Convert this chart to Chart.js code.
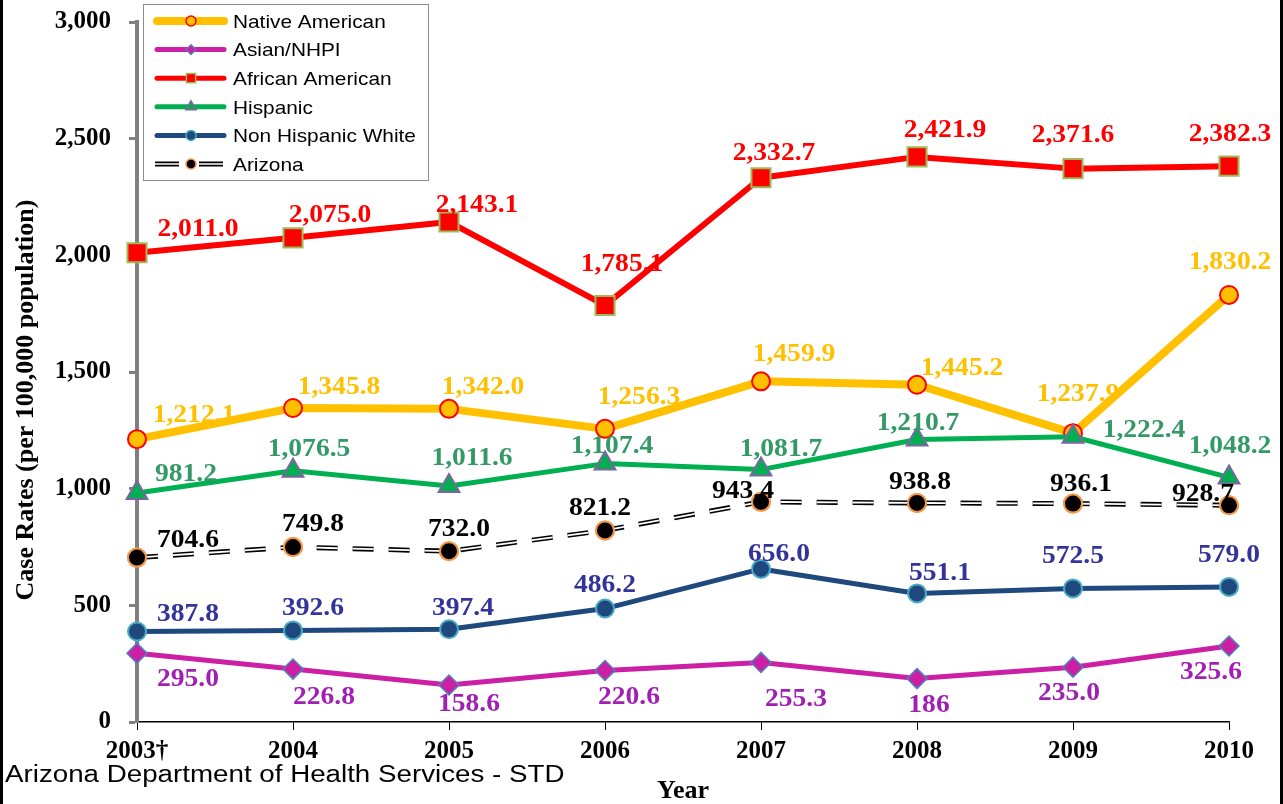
<!DOCTYPE html>
<html>
<head>
<meta charset="utf-8">
<script src="https://cdn.jsdelivr.net/npm/chart.js@4.4.1/dist/chart.umd.min.js"></script>
<style>
html,body{margin:0;padding:0;background:#fff;}
#wrap{position:relative;width:1283px;height:804px;}
</style>
</head>
<body>
<div id="wrap"><canvas id="c" width="1283" height="804"></canvas></div>
<script>
// ---------------- DATA ----------------
const years = ['2003\u2020', '2004', '2005', '2006', '2007', '2008', '2009', '2010'];
const nativeAmerican   = [1212.1, 1345.8, 1342.0, 1256.3, 1459.9, 1445.2, 1237.9, 1830.2];
const asianNHPI        = [295.0, 226.8, 158.6, 220.6, 255.3, 186, 235.0, 325.6];
const africanAmerican  = [2011.0, 2075.0, 2143.1, 1785.1, 2332.7, 2421.9, 2371.6, 2382.3];
const hispanic         = [981.2, 1076.5, 1011.6, 1107.4, 1081.7, 1210.7, 1222.4, 1048.2];
const nonHispanicWhite = [387.8, 392.6, 397.4, 486.2, 656.0, 551.1, 572.5, 579.0];
const arizona          = [704.6, 749.8, 732.0, 821.2, 943.4, 938.8, 936.1, 928.7];
const seriesNames = ['Native American', 'Asian/NHPI', 'African American', 'Hispanic', 'Non Hispanic White', 'Arizona'];
const yTickValues = [0, 500, 1000, 1500, 2000, 2500, 3000];
const yTitle = 'Case Rates (per 100,000 population)';
const xTitle = 'Year';
const footerText = 'Arizona Department of Health Services - STD';
// label shown as a whole number in the source (series index -> point indices)
const wholeNumberLabels = { 1: [5] };

// ---------------- STYLES ----------------
const seriesValues = [nativeAmerican, asianNHPI, africanAmerican, hispanic, nonHispanicWhite, arizona];
const styles = [
  { line: '#FFC000', width: 8, fill: '#FFC000', border: '#FF0000', bw: 2,   shape: 'circle',   r: 9,    label: '#FFC000', legR: 5,   legBw: 1.5, legW: 8 },
  { line: '#CC1FA4', width: 5, fill: '#CC1FA4', border: '#4F81BD', bw: 1.5, shape: 'rectRot',  r: 10,   label: '#A020B4', legR: 5,   legBw: 1.2, legW: 5 },
  { line: '#FF0000', width: 6, fill: '#FF0000', border: '#9BBB59', bw: 2,   shape: 'rect',     r: 13.5, label: '#FF0000', legR: 6.5, legBw: 1.5, legW: 5 },
  { line: '#00B050', width: 5, fill: '#00B050', border: '#8064A2', bw: 2,   shape: 'triangle', r: 12,   label: '#339966', legR: 6,   legBw: 1.5, legW: 5 },
  { line: '#1F497D', width: 5, fill: '#1F497D', border: '#4BACC6', bw: 2,   shape: 'circle',   r: 9,    label: '#333399', legR: 5,   legBw: 1.5, legW: 5 },
  { line: '#000000', width: 5, fill: '#000000', border: '#F79646', bw: 2,   shape: 'circle',   r: 9,    label: '#000000', legR: 5,   legBw: 1.5, legW: 5, dash: [21, 15] }
];
// label placement relative to each point (pixels)
const labelOffsets = [
  [[57,-26],[46,-22],[34,-23],[34,-33],[33,-29],[45,-18],[5,-41],[1,-34]],
  [[51,24],[31,26],[20,18],[24,25],[35,35],[12,25],[-4,24],[-18,24]],
  [[61,-25],[37,-24],[28,-18],[17,-43],[13,-26],[28,-28],[0,-35],[1,-34]],
  [[49,-21],[16,-23],[23,-29],[7,-19],[20,-22],[1,-18],[71,-8],[1,-33]],
  [[51,-19],[20,-24],[14,-23],[0,-25],[18,-16],[23,-22],[0,-34],[0,-33]],
  [[51,-19],[20,-25],[10,-24],[-5,-24],[-18,-12],[3,-22],[8,-21],[-26,-13]]
];
const SERIF = '"Liberation Serif", "Times New Roman", serif';
const SANS = '"Liberation Sans", Arial, sans-serif';

function fmtValue(si, pi, v) {
  if (wholeNumberLabels[si] && wholeNumberLabels[si].includes(pi)) return v.toLocaleString('en-US', {maximumFractionDigits: 0});
  return v.toLocaleString('en-US', {minimumFractionDigits: 1, maximumFractionDigits: 1});
}

function markerPath(ctx, shape, x, y, r) {
  ctx.beginPath();
  if (shape === 'circle') {
    ctx.arc(x, y, r, 0, Math.PI * 2);
  } else if (shape === 'rectRot') {
    ctx.moveTo(x, y - r); ctx.lineTo(x + r, y); ctx.lineTo(x, y + r); ctx.lineTo(x - r, y); ctx.closePath();
  } else if (shape === 'rect') {
    const s = r * Math.SQRT1_2; ctx.rect(x - s, y - s, 2 * s, 2 * s);
  } else if (shape === 'triangle') {
    ctx.moveTo(x, y - r); ctx.lineTo(x + 0.866 * r, y + 0.5 * r); ctx.lineTo(x - 0.866 * r, y + 0.5 * r); ctx.closePath();
  }
}

// ---------------- PLUGINS ----------------
const frame = {
  id: 'frame',
  beforeDraw(chart) {
    const ctx = chart.ctx;
    ctx.save();
    ctx.fillStyle = '#fff';
    ctx.fillRect(0, 0, chart.width, chart.height);
    ctx.restore();
  },
  afterDraw(chart) {
    const ctx = chart.ctx;
    ctx.save();
    ctx.fillStyle = '#000';
    ctx.fillRect(0, 0, 3, chart.height);
    ctx.fillRect(chart.width - 3, 0, 3, chart.height);
    // y axis title
    ctx.translate(33, 400);
    ctx.rotate(-Math.PI / 2);
    ctx.font = 'bold 26px ' + SERIF;
    ctx.fillStyle = '#000';
    ctx.textAlign = 'center';
    ctx.textBaseline = 'alphabetic';
    ctx.fillText(yTitle, 0, 0);
    ctx.restore();
    // footer
    ctx.save();
    ctx.translate(5, 782);
    ctx.scale(1.18, 1);
    ctx.font = '23.5px ' + SANS;
    ctx.fillStyle = '#000';
    ctx.textAlign = 'left';
    ctx.textBaseline = 'alphabetic';
    ctx.fillText(footerText, 0, 0);
    ctx.restore();
  }
};

const doubleLine = {
  id: 'doubleLine',
  afterDatasetDraw(chart, args) {
    const st = styles[args.index];
    if (!st.dash) return;
    const ctx = chart.ctx;
    const pts = args.meta.data;
    ctx.save();
    ctx.beginPath();
    pts.forEach((p, j) => j ? ctx.lineTo(p.x, p.y) : ctx.moveTo(p.x, p.y));
    ctx.setLineDash(st.dash);
    ctx.lineWidth = 1.8;
    ctx.strokeStyle = '#fff';
    ctx.stroke();
    ctx.restore();
    const area = {left: -1e4, right: 1e4, top: -1e4, bottom: 1e4};
    pts.forEach(p => p.draw(ctx, area));
  }
};

const valueLabels = {
  id: 'valueLabels',
  afterDatasetsDraw(chart) {
    const ctx = chart.ctx;
    chart.data.datasets.forEach((ds, i) => {
      const meta = chart.getDatasetMeta(i);
      meta.data.forEach((pt, j) => {
        const [dx, dy] = labelOffsets[i][j];
        ctx.save();
        ctx.translate(pt.x + dx, pt.y + dy);
        ctx.scale(1.08, 1);
        ctx.font = 'bold 25.5px ' + SERIF;
        ctx.fillStyle = styles[i].label;
        ctx.textAlign = 'center';
        ctx.textBaseline = 'alphabetic';
        ctx.fillText(fmtValue(i, j, ds.data[j]), 0, 8.5);
        ctx.restore();
      });
    });
  }
};

const boxLegend = {
  id: 'boxLegend',
  afterDraw(chart) {
    const ctx = chart.ctx;
    ctx.save();
    ctx.fillStyle = '#fff';
    ctx.fillRect(143.5, 4.5, 285, 176);
    ctx.strokeStyle = '#8c8c8c';
    ctx.lineWidth = 1;
    ctx.strokeRect(143.5, 4.5, 285, 176);
    chart.data.datasets.forEach((ds, i) => {
      const st = styles[i];
      const y = 21 + i * 28.6;
      ctx.save();
      ctx.lineCap = st.dash ? 'butt' : 'round';
      ctx.beginPath();
      ctx.moveTo(st.dash ? 155 : 157, y);
      ctx.lineTo(st.dash ? 225 : 224, y);
      ctx.strokeStyle = st.line;
      ctx.lineWidth = st.legW;
      if (st.dash) ctx.setLineDash([24, 20]);
      ctx.stroke();
      if (st.dash) {
        ctx.strokeStyle = '#fff';
        ctx.lineWidth = 1.6;
        ctx.stroke();
      }
      ctx.restore();
      markerPath(ctx, st.shape, 191, y, st.legR);
      ctx.fillStyle = st.fill;
      ctx.fill();
      ctx.lineWidth = st.legBw;
      ctx.strokeStyle = st.border;
      ctx.stroke();
      ctx.save();
      ctx.translate(233, y + 6.8);
      ctx.scale(1.12, 1);
      ctx.font = '18.6px ' + SANS;
      ctx.fillStyle = '#000';
      ctx.textAlign = 'left';
      ctx.textBaseline = 'alphabetic';
      ctx.fillText(ds.label, 0, 0);
      ctx.restore();
    });
    ctx.restore();
  }
};

// ---------------- CHART ----------------
const datasets = seriesValues.map((vals, i) => {
  const st = styles[i];
  return {
    label: seriesNames[i],
    data: vals,
    borderColor: st.line,
    borderWidth: st.width,
    borderDash: st.dash || [],
    borderCapStyle: 'butt',
    borderJoinStyle: 'round',
    pointStyle: st.shape,
    pointRadius: st.r,
    pointHoverRadius: st.r,
    pointBorderWidth: st.bw,
    pointBackgroundColor: st.fill,
    pointBorderColor: st.border,
    tension: 0,
    fill: false,
    clip: false,
    order: seriesValues.length - 1 - i
  };
});

new Chart(document.getElementById('c'), {
  type: 'line',
  data: { labels: years, datasets },
  options: {
    responsive: false,
    animation: false,
    devicePixelRatio: 1,
    layout: { padding: { top: 22, right: 54, left: 0, bottom: 0 } },
    plugins: { legend: { display: false }, tooltip: { enabled: false }, title: { display: false } },
    scales: {
      x: {
        type: 'category',
        offset: false,
        afterFit(s) { s.height = 82; s.paddingLeft = 0; s.paddingRight = 0; s.paddingTop = 0; s.paddingBottom = 0; },
        grid: { display: true, drawOnChartArea: false, drawTicks: true, tickLength: 8, tickColor: '#000', tickWidth: 1 },
        border: { display: true, color: '#000', width: 1.5 },
        ticks: { color: '#000', font: { family: SERIF, size: 25, weight: 'bold' }, padding: 7, maxRotation: 0, autoSkip: false },
        title: { display: true, text: xTitle, color: '#000', font: { family: SERIF, size: 26, weight: 'bold', lineHeight: 1 }, padding: { top: 0, bottom: 0 } }
      },
      y: {
        min: 0, max: 3000,
        afterFit(s) { s.width = 137; s.paddingTop = 0; s.paddingBottom = 0; s.paddingLeft = 0; s.paddingRight = 0; },
        afterBuildTicks(s) { s.ticks = yTickValues.map(v => ({ value: v })); },
        grid: { display: true, drawOnChartArea: false, drawTicks: true, tickLength: 8, tickColor: '#808080', tickWidth: 3 },
        border: { display: true, color: '#808080', width: 4 },
        ticks: {
          color: '#000', padding: 18,
          font: { family: SERIF, size: 25, weight: 'bold' },
          callback: v => Number(v).toLocaleString('en-US')
        }
      }
    }
  },
  plugins: [frame, doubleLine, valueLabels, boxLegend]
});
</script>
</body>
</html>
